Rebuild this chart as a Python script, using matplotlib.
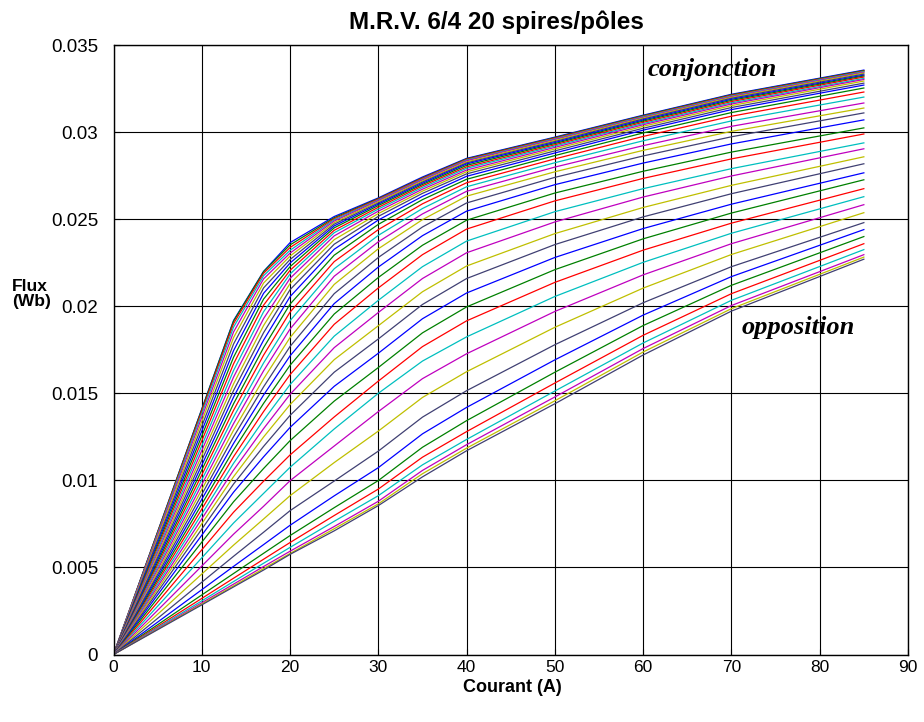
import numpy as np
import matplotlib
matplotlib.use("Agg")
import matplotlib.pyplot as plt

# Phase current (A) at which the flux of each rotor position was sampled
current = [0, 10, 13.6, 17, 20, 25, 30, 35, 40, 50, 60, 70, 85]

# Flux linkage (Wb), one list per current value, one entry per rotor position
# (position 0 = conjonction / aligned ... position 41 = opposition / unaligned)
flux_10 = [0.01410, 0.01407, 0.01397, 0.01382, 0.01362, 0.01338, 0.01311, 0.01283, 0.01255, 0.01227,
           0.01199, 0.01171, 0.01143, 0.01115, 0.01087, 0.01059, 0.01031, 0.01003, 0.00975, 0.00947,
           0.00919, 0.00891, 0.00863, 0.00835, 0.00807, 0.00779, 0.00751, 0.00720, 0.00685, 0.00645,
           0.00601, 0.00555, 0.00508, 0.00462, 0.00415, 0.00372, 0.00342, 0.00322, 0.00308, 0.00297,
           0.00290, 0.00285]
flux_13_6 = [0.01918, 0.01914, 0.01900, 0.01880, 0.01852, 0.01820, 0.01783, 0.01745, 0.01707, 0.01669,
             0.01631, 0.01593, 0.01554, 0.01516, 0.01478, 0.01440, 0.01402, 0.01364, 0.01326, 0.01288,
             0.01250, 0.01212, 0.01174, 0.01136, 0.01098, 0.01059, 0.01021, 0.00979, 0.00932, 0.00877,
             0.00817, 0.00755, 0.00691, 0.00628, 0.00564, 0.00506, 0.00465, 0.00438, 0.00419, 0.00404,
             0.00394, 0.00388]
flux_17 = [0.02200, 0.02198, 0.02189, 0.02175, 0.02157, 0.02133, 0.02105, 0.02074, 0.02041, 0.02006,
           0.01968, 0.01929, 0.01889, 0.01848, 0.01805, 0.01762, 0.01719, 0.01674, 0.01629, 0.01583,
           0.01537, 0.01490, 0.01442, 0.01395, 0.01346, 0.01297, 0.01249, 0.01195, 0.01135, 0.01068,
           0.00995, 0.00925, 0.00851, 0.00778, 0.00702, 0.00631, 0.00581, 0.00547, 0.00524, 0.00505,
           0.00493, 0.00485]
flux_20 = [0.02365, 0.02352, 0.02337, 0.02321, 0.02305, 0.02288, 0.02268, 0.02248, 0.02227, 0.02206,
           0.02185, 0.02160, 0.02130, 0.02095, 0.02055, 0.02012, 0.01966, 0.01917, 0.01869, 0.01820,
           0.01769, 0.01715, 0.01661, 0.01607, 0.01550, 0.01494, 0.01435, 0.01373, 0.01304, 0.01228,
           0.01146, 0.01075, 0.00998, 0.00912, 0.00826, 0.00742, 0.00683, 0.00643, 0.00615, 0.00593,
           0.00580, 0.00575]
flux_25 = [0.02515, 0.02508, 0.02502, 0.02496, 0.02489, 0.02480, 0.02471, 0.02461, 0.02450, 0.02436,
           0.02422, 0.02404, 0.02382, 0.02356, 0.02327, 0.02293, 0.02256, 0.02215, 0.02172, 0.02125,
           0.02072, 0.02015, 0.01955, 0.01896, 0.01828, 0.01762, 0.01693, 0.01621, 0.01540, 0.01455,
           0.01364, 0.01295, 0.01197, 0.01102, 0.00996, 0.00911, 0.00843, 0.00798, 0.00765, 0.00735,
           0.00722, 0.00710]
flux_30 = [0.02622, 0.02618, 0.02615, 0.02610, 0.02606, 0.02600, 0.02593, 0.02586, 0.02578, 0.02568,
           0.02558, 0.02546, 0.02532, 0.02516, 0.02495, 0.02470, 0.02440, 0.02407, 0.02370, 0.02330,
           0.02280, 0.02225, 0.02165, 0.02105, 0.02034, 0.01964, 0.01888, 0.01812, 0.01730, 0.01648,
           0.01570, 0.01500, 0.01395, 0.01283, 0.01168, 0.01073, 0.00999, 0.00950, 0.00912, 0.00880,
           0.00865, 0.00855]
flux_35 = [0.02742, 0.02737, 0.02734, 0.02729, 0.02725, 0.02719, 0.02713, 0.02706, 0.02699, 0.02691,
           0.02682, 0.02672, 0.02661, 0.02648, 0.02631, 0.02612, 0.02588, 0.02561, 0.02530, 0.02497,
           0.02455, 0.02405, 0.02350, 0.02296, 0.02227, 0.02159, 0.02083, 0.02010, 0.01928, 0.01847,
           0.01768, 0.01685, 0.01584, 0.01476, 0.01363, 0.01267, 0.01190, 0.01133, 0.01089, 0.01057,
           0.01038, 0.01020]
flux_40 = [0.02849, 0.02846, 0.02843, 0.02839, 0.02835, 0.02829, 0.02823, 0.02817, 0.02809, 0.02800,
           0.02792, 0.02782, 0.02772, 0.02760, 0.02746, 0.02729, 0.02709, 0.02686, 0.02660, 0.02632,
           0.02593, 0.02546, 0.02494, 0.02443, 0.02374, 0.02307, 0.02231, 0.02159, 0.02076, 0.01996,
           0.01916, 0.01824, 0.01727, 0.01624, 0.01515, 0.01419, 0.01343, 0.01280, 0.01235, 0.01205,
           0.01185, 0.01170]
flux_50 = [0.02971, 0.02968, 0.02965, 0.02961, 0.02957, 0.02952, 0.02946, 0.02940, 0.02934, 0.02927,
           0.02920, 0.02912, 0.02903, 0.02892, 0.02880, 0.02865, 0.02846, 0.02824, 0.02799, 0.02772,
           0.02740, 0.02698, 0.02650, 0.02605, 0.02543, 0.02484, 0.02417, 0.02354, 0.02280, 0.02210,
           0.02137, 0.02056, 0.01970, 0.01879, 0.01779, 0.01692, 0.01621, 0.01559, 0.01513, 0.01479,
           0.01457, 0.01440]
flux_60 = [0.03097, 0.03094, 0.03091, 0.03088, 0.03084, 0.03080, 0.03075, 0.03069, 0.03063, 0.03056,
           0.03049, 0.03042, 0.03033, 0.03022, 0.03011, 0.02995, 0.02975, 0.02950, 0.02922, 0.02895,
           0.02863, 0.02822, 0.02775, 0.02734, 0.02675, 0.02627, 0.02567, 0.02513, 0.02446, 0.02387,
           0.02322, 0.02252, 0.02180, 0.02104, 0.02020, 0.01949, 0.01889, 0.01833, 0.01789, 0.01757,
           0.01737, 0.01720]
flux_70 = [0.03217, 0.03214, 0.03211, 0.03207, 0.03203, 0.03199, 0.03194, 0.03188, 0.03182, 0.03175,
           0.03168, 0.03161, 0.03152, 0.03141, 0.03129, 0.03112, 0.03091, 0.03064, 0.03033, 0.03004,
           0.02973, 0.02932, 0.02885, 0.02846, 0.02790, 0.02748, 0.02694, 0.02646, 0.02586, 0.02535,
           0.02477, 0.02419, 0.02359, 0.02297, 0.02227, 0.02170, 0.02120, 0.02072, 0.02034, 0.02004,
           0.01986, 0.01972]
flux_85 = [0.03356, 0.03353, 0.03350, 0.03347, 0.03343, 0.03339, 0.03333, 0.03327, 0.03322, 0.03316,
           0.03308, 0.03302, 0.03293, 0.03281, 0.03270, 0.03253, 0.03230, 0.03201, 0.03167, 0.03138,
           0.03110, 0.03070, 0.03024, 0.02989, 0.02938, 0.02904, 0.02858, 0.02818, 0.02766, 0.02726,
           0.02675, 0.02629, 0.02583, 0.02537, 0.02480, 0.02440, 0.02400, 0.02359, 0.02325, 0.02296,
           0.02282, 0.02270]

x_ticks = [0, 10, 20, 30, 40, 50, 60, 70, 80, 90]
y_ticks = [0, 0.005, 0.01, 0.015, 0.02, 0.025, 0.03, 0.035]
y_tick_labels = ["0", "0.005", "0.01", "0.015", "0.02", "0.025", "0.03", "0.035"]

title = "M.R.V. 6/4 20 spires/pôles"
x_label = "Courant (A)"
y_label = "Flux\n(Wb)"
label_aligned = "conjonction"
label_unaligned = "opposition"

# classic MATLAB line colour order
line_colors = [(0, 0, 1), (0, 0.5, 0), (1, 0, 0), (0, 0.75, 0.75),
               (0.75, 0, 0.75), (0.75, 0.75, 0), (0.25, 0.25, 0.45)]

columns = [flux_10, flux_13_6, flux_17, flux_20, flux_25, flux_30, flux_35,
           flux_40, flux_50, flux_60, flux_70, flux_85]
n_pos = len(flux_10)
flux = np.column_stack([np.zeros(n_pos)] + [np.asarray(c) for c in columns])

plt.rcParams["font.family"] = ["Liberation Sans", "DejaVu Sans"]

W, H = 924, 722
fig = plt.figure(figsize=(W / 100, H / 100), dpi=100)
ax = fig.add_axes([113.5 / W, 1 - 654.5 / H, (908 - 113.5) / W, (654.5 - 45) / H])

for k in range(n_pos):
    ax.plot(current, flux[k], color=line_colors[k % len(line_colors)], lw=0.9)

ax.set_xlim(0, 90)
ax.set_ylim(0, 0.035)
ax.set_xticks(x_ticks)
ax.set_xticklabels([str(t) for t in x_ticks])
ax.set_yticks(y_ticks)
ax.set_yticklabels(y_tick_labels)
ax.tick_params(direction="in", length=4, color="black")
ax.tick_params(axis="y", labelsize=13.5, pad=11)
ax.tick_params(axis="x", labelsize=12.5, pad=4)
ax.grid(True, color="black", lw=0.8)
ax.set_axisbelow(True)
for sp in ax.spines.values():
    sp.set_linewidth(1.0)
    sp.set_color("black")

fig.text(496.5 / W, 1 - 22 / H, title, fontsize=17.5, fontweight="bold",
         ha="center", va="center")
fig.text(512 / W, 1 - 687 / H, x_label, fontsize=13, fontweight="bold",
         ha="center", va="center")
fig.text(12 / W, 1 - 294 / H, y_label, fontsize=12.5, fontweight="bold",
         ha="left", va="center", multialignment="left", linespacing=1.0)

ax.text(67.8, 0.03359, label_aligned, fontsize=19, fontweight="bold", fontstyle="italic",
        family=["Liberation Serif", "DejaVu Serif"], ha="center", va="center")
ax.text(77.6, 0.01876, label_unaligned, fontsize=19, fontweight="bold", fontstyle="italic",
        family=["Liberation Serif", "DejaVu Serif"], ha="center", va="center")

fig.savefig("out.png", dpi=100)
